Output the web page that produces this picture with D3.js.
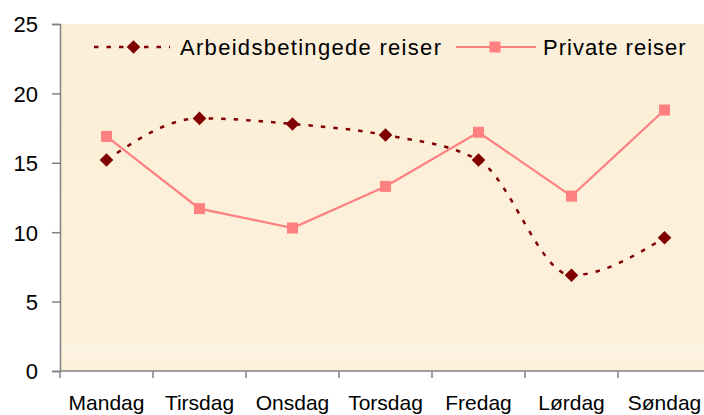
<!DOCTYPE html>
<html><head><meta charset="utf-8">
<script src="https://cdn.jsdelivr.net/npm/d3@7"></script>
<style>body{margin:0;background:#fff}svg{display:block}</style>
</head><body><svg id="c" width="704" height="415"></svg>
<script>
const days = ["Mandag","Tirsdag","Onsdag","Torsdag","Fredag","Lørdag","Søndag"];
const arbeid = [15.2, 18.2, 17.8, 17.0, 15.2, 6.9, 9.6];
const privat = [16.9, 11.7, 10.3, 13.3, 17.2, 12.6, 18.8];
const yTicks = [0, 5, 10, 15, 20, 25];
const seriesNames = ["Arbeidsbetingede reiser", "Private reiser"];

const svg = d3.select("#c");
const L = 60, R = 711, T = 24, B = 371;
const x = d3.scaleBand().domain(days).range([L, R]).padding(0);
const y = d3.scaleLinear().domain([0, 25]).range([B, T]);

// background
const defs = svg.append("defs");
const g1 = defs.append("linearGradient").attr("id","bg").attr("x1",0).attr("y1",0).attr("x2",0).attr("y2",1);
g1.append("stop").attr("offset","0%").attr("stop-color","#FBEED6");
g1.append("stop").attr("offset","50%").attr("stop-color","#FCF0DA");
g1.append("stop").attr("offset","90%").attr("stop-color","#FCF0DA");
g1.append("stop").attr("offset","93%").attr("stop-color","#FDF4E2");
g1.append("stop").attr("offset","100%").attr("stop-color","#FCF0DA");
svg.append("rect").attr("x", L).attr("y", T).attr("width", 704 - L).attr("height", B - T).attr("fill", "url(#bg)");

// legend background
svg.append("rect").attr("x", 83).attr("y", 26).attr("width", 612).attr("height", 40)
  .attr("fill", "#ffffff").attr("opacity", 0.1);

// axes
const yAxis = d3.axisLeft(y).tickValues(yTicks).tickSize(8).tickPadding(14);
const ya = svg.append("g").attr("transform", `translate(${L},0)`).call(yAxis);
ya.select(".domain").attr("stroke", "#808080").attr("stroke-width", 1.5);
ya.selectAll(".tick line").attr("stroke", "#808080").attr("stroke-width", 1.5);
ya.selectAll(".tick text").attr("font-family", "Liberation Sans, Arial, sans-serif")
  .attr("font-size", 22).attr("fill", "#000").attr("dy", "0.36em");

const xa = svg.append("g").attr("transform", `translate(0,${B})`);
xa.append("line").attr("x1", L).attr("x2", 704).attr("stroke", "#808080").attr("stroke-width", 1.5);
xa.selectAll("line.t").data(days).enter().append("line").attr("class","t")
  .attr("x1", d => x(d)).attr("x2", d => x(d)).attr("y1", 0).attr("y2", 7)
  .attr("stroke", "#808080").attr("stroke-width", 1.5);
xa.selectAll("text").data(days).enter().append("text")
  .attr("x", d => x(d) + x.bandwidth() / 2).attr("y", 39)
  .attr("text-anchor", "middle").attr("font-family", "Liberation Sans, Arial, sans-serif")
  .attr("font-size", 21).attr("fill", "#000").text(d => d);

// lines
const cx = (d, i) => x(days[i]) + x.bandwidth() / 2;
const lineSmooth = d3.line().x(cx).y(d => y(d)).curve(d3.curveMonotoneX);
const lineStraight = d3.line().x(cx).y(d => y(d));

svg.append("path").datum(privat).attr("d", lineStraight).attr("fill", "none")
  .attr("stroke", "#FF8080").attr("stroke-width", 2.2);
svg.append("path").datum(arbeid).attr("d", lineSmooth).attr("fill", "none")
  .attr("stroke", "#800000").attr("stroke-width", 2.5).attr("stroke-dasharray", "4.5,8");

const sq = 11, dm = 6.8;
svg.selectAll("rect.p").data(privat).enter().append("rect").attr("class","p")
  .attr("x", (d, i) => cx(d, i) - sq / 2).attr("y", d => y(d) - sq / 2)
  .attr("width", sq).attr("height", sq).attr("fill", "#FF8080");
const diamond = (px, py) => `M${px},${py - dm}L${px + dm},${py}L${px},${py + dm}L${px - dm},${py}Z`;
svg.selectAll("path.a").data(arbeid).enter().append("path").attr("class","a")
  .attr("d", (d, i) => diamond(cx(d, i), y(d))).attr("fill", "#800000");

// legend
const ly = 47;
svg.append("line").attr("x1", 94).attr("x2", 170).attr("y1", ly).attr("y2", ly)
  .attr("stroke", "#800000").attr("stroke-width", 2.5).attr("stroke-dasharray", "4.5,8");
svg.append("path").attr("d", diamond(133.5, ly)).attr("fill", "#800000");
svg.append("text").attr("x", 180).attr("y", ly + 8).attr("font-family", "Liberation Sans, Arial, sans-serif")
  .attr("font-size", 22).attr("letter-spacing", "1.3px").attr("fill", "#000").text(seriesNames[0]);
svg.append("line").attr("x1", 456).attr("x2", 536).attr("y1", ly).attr("y2", ly)
  .attr("stroke", "#FF8080").attr("stroke-width", 2.2);
svg.append("rect").attr("x", 495 - sq / 2).attr("y", ly - sq / 2).attr("width", sq).attr("height", sq).attr("fill", "#FF8080");
svg.append("text").attr("x", 543).attr("y", ly + 8).attr("font-family", "Liberation Sans, Arial, sans-serif")
  .attr("font-size", 22).attr("letter-spacing", "1px").attr("fill", "#000").text(seriesNames[1]);
</script></body></html>
